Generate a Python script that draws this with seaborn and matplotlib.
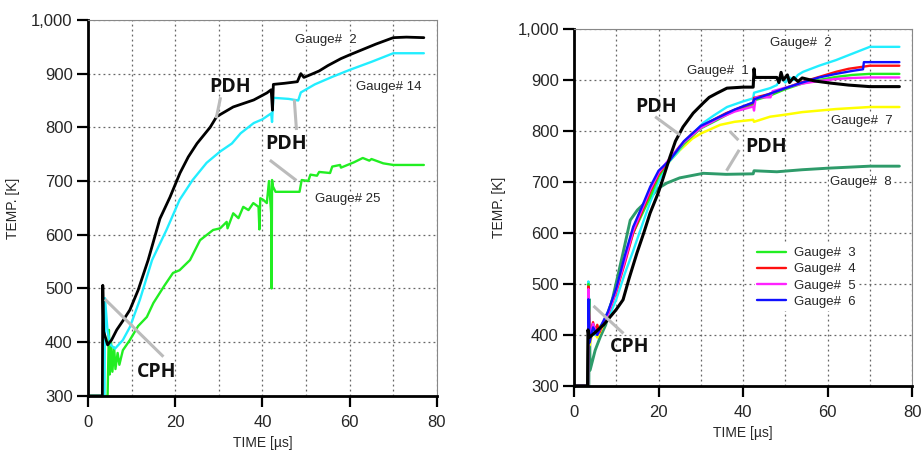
import matplotlib
matplotlib.use("Agg")
import matplotlib.pyplot as plt
import seaborn as sns
from matplotlib.ticker import MultipleLocator, FuncFormatter

# ---------------- left panel : gauges 2, 14, 25 ----------------
left_g2_t = [0, 3.3, 3.4, 3.6, 4.5, 5.4, 6.6, 8.1, 9.6, 11.5, 13.8, 16.5, 18.8, 21.1, 23, 25, 28,
             29.5, 33.3, 38, 41, 42, 42.3, 42.5, 45, 48, 48.8, 49.5, 51, 53, 55, 58, 60, 63, 66,
             70, 73, 77]
left_g2_k = [300, 300, 506, 420, 395, 404, 423, 441, 460, 497, 553, 630, 670, 715, 745, 770, 800,
             820, 838, 851, 864, 870, 832, 880, 882, 885, 900, 893, 898, 905, 915, 928, 935, 945,
             955, 967, 968, 967]

left_g14_t = [0, 3.8, 3.9, 4.5, 5.2, 6.2, 8, 9.6, 11.9, 14.7, 18, 21, 24, 27.2, 30.3, 33, 35, 38,
              40, 42, 42.2, 42.5, 46, 48.2, 48.8, 52, 56, 60, 65, 70, 77]
left_g14_k = [300, 300, 482, 420, 395, 388, 404, 428, 479, 553, 609, 665, 702, 734, 755, 770, 789,
              808, 815, 826, 810, 855, 853, 850, 865, 880, 894, 907, 922, 938, 938]

left_g25_t = [0, 4.5, 4.8, 5.0, 5.3, 5.6, 6.0, 6.3, 6.8, 7.2, 8, 9.6, 11.5, 13.5, 15, 17.5, 19.5,
              21, 23.4, 25.7, 28.7, 30.3, 31.8, 32.0, 33.3, 34.5, 35.6, 36.8, 37.9, 39.1, 39.3,
              39.5, 40.2, 41, 41.5, 42.0, 42.1, 42.2, 42.4, 43, 48.5, 49, 50.5, 51, 52.5, 53,
              55.5, 56, 57.8, 58, 61, 63, 64.5, 65, 67.7, 70, 77]
left_g25_k = [300, 300, 423, 340, 400, 345, 390, 350, 380, 358, 385, 404, 430, 447, 473, 505, 529,
              534, 553, 590, 609, 612, 624, 612, 640, 631, 652, 646, 659, 652, 610,
              668, 665, 659, 700, 640, 500, 702, 690, 680, 680, 702, 700, 712, 710, 717,
              715, 727, 730, 725, 735, 743, 738, 741, 733, 730, 730]

# ---------------- right panel : gauges 1-8 ----------------
right_g1_t = [0, 3.2, 3.3, 3.6, 5, 7, 8.5, 10, 11.6, 13, 14.9, 16.5, 18, 19.9, 20.8, 22.7, 24,
              25.8, 28.2, 30.6, 32, 33.8, 36.2, 40, 42.4, 42.6, 42.8, 48, 48.5, 49, 49.5, 50.5,
              51, 52, 53, 54, 57, 60.6, 65, 70, 77]
right_g1_k = [300, 300, 410, 395, 405, 420, 435, 450, 469, 510, 561, 600, 639, 678, 700, 749, 780,
              808, 835, 855, 866, 874, 884, 886, 886, 922, 905, 905, 895, 915, 900, 910,
              895, 905, 897, 904, 898, 894, 890, 887, 887]

right_g2_t = [0, 3.3, 3.4, 3.7, 5, 6, 8, 10, 12, 14, 16.3, 18, 20, 22, 24.4, 27, 30.6, 33, 36.2,
              40, 42.4, 42.6, 46.4, 48, 49, 50, 51, 52, 53, 54.2, 58, 62, 66, 70, 77]
right_g2_k = [300, 300, 505, 420, 400, 415, 430, 470, 520, 565, 620, 660, 700, 735, 757, 785, 816,
              830, 847, 858, 864, 875, 884, 890, 905, 895, 905, 900, 910, 916, 928, 939, 952,
              965, 965]

right_g3_t = [0, 3.3, 3.4, 3.7, 4.5, 5.5, 7, 8, 10, 12, 14, 16, 18, 20, 23, 26, 30, 34, 38, 42.4,
              42.6, 46, 50, 54, 58, 62, 66, 70, 77]
right_g3_k = [300, 300, 500, 410, 420, 410, 425, 445, 490, 550, 600, 635, 670, 710, 748, 775, 805,
              822, 840, 852, 860, 868, 882, 893, 900, 906, 910, 912, 912]

right_g4_t = [0, 3.3, 3.4, 3.7, 4.5, 5, 5.5, 6, 7, 8, 10, 12, 14, 16, 18, 20, 22.7, 25, 28, 30,
              33, 36, 40, 42.4, 42.6, 46, 50, 54, 58, 62, 65, 68.4, 70, 77]
right_g4_k = [300, 300, 495, 400, 425, 405, 420, 405, 425, 440, 485, 540, 600, 640, 680, 715, 745,
              770, 795, 808, 822, 835, 848, 855, 865, 872, 884, 896, 906, 916, 922, 926, 928, 928]

right_g5_t = [0, 3.3, 3.4, 3.7, 4.5, 5.5, 6.5, 8, 10, 12, 14, 16, 18, 20, 23, 26, 30, 34, 38, 42.4,
              42.6, 43, 46.5, 47, 50, 54, 58, 62, 66, 70, 77]
right_g5_k = [300, 300, 490, 395, 422, 400, 418, 440, 488, 545, 605, 645, 685, 718, 750, 778, 806,
              824, 838, 848, 840, 866, 866, 878, 885, 893, 898, 902, 904, 905, 905]

right_g6_t = [0, 3.3, 3.4, 3.7, 4.5, 5.5, 6.5, 8, 10, 12, 14, 16, 18, 20, 22.7, 26, 30, 34, 38,
              42.4, 42.6, 46, 50, 54, 58, 62, 66, 68.4, 68.6, 77]
right_g6_k = [300, 300, 470, 385, 415, 400, 420, 445, 492, 555, 612, 650, 690, 722, 743, 780, 810,
              826, 842, 856, 862, 872, 884, 895, 905, 912, 918, 921, 935, 935]

right_g7_t = [0, 3.3, 3.4, 3.7, 4.5, 5.5, 6.5, 8, 10, 12, 14, 16, 18, 20, 22, 25, 28, 30, 34.6,
              38, 42.4, 42.6, 46.4, 50, 54, 58, 62, 66, 70, 77]
right_g7_k = [300, 300, 480, 380, 410, 395, 412, 440, 490, 550, 610, 648, 685, 715, 735, 762, 785,
              795, 812, 818, 822, 818, 828, 832, 837, 840, 843, 845, 847, 847]

right_g8_t = [0, 3.5, 3.6, 3.8, 5, 6.2, 7.5, 9.2, 11.6, 13.3, 15, 18, 20, 22, 25, 30.6, 36, 42.4,
              42.6, 48, 54, 60, 65, 70, 77]
right_g8_k = [300, 300, 470, 331, 370, 396, 420, 474, 561, 625, 645, 669, 688, 698, 708, 717, 715,
              716, 722, 720, 724, 727, 729, 731, 731]

legend_labels = ["Gauge#  3", "Gauge#  4", "Gauge#  5", "Gauge#  6"]

# colours
c_black = "#000000"
c_cyan = "#22EEFF"
c_lime = "#22EE22"
c_red = "#FF1010"
c_magenta = "#FF22FF"
c_blue = "#1010FF"
c_yellow = "#FFFF00"
c_seagreen = "#2E9B6A"
c_note = "#BBBBBB"

sns.set_style("white")
plt.rcParams["font.family"] = ["Liberation Sans", "DejaVu Sans"]

fig = plt.figure(figsize=(9.22, 4.53), dpi=100)
ax_l = fig.add_axes([0.0954, 0.126, 0.3785, 0.830])
ax_r = fig.add_axes([0.6226, 0.148, 0.3666, 0.788])


def draw(ax, t, k, color, lw=1.7, label=None):
    sns.lineplot(x=t, y=k, ax=ax, color=color, lw=lw, sort=False, estimator=None,
                 label=label, legend=False)
    return ax.lines[-1]


def style_axes(ax):
    ax.set_xlim(0, 80)
    ax.set_ylim(300, 1000)
    ax.xaxis.set_major_locator(MultipleLocator(20))
    ax.xaxis.set_minor_locator(MultipleLocator(10))
    ax.yaxis.set_major_locator(MultipleLocator(100))
    ax.yaxis.set_major_formatter(FuncFormatter(lambda v, p: f"{int(v):,}"))
    ax.grid(True, which="both", color="#666666", ls=(0, (1.5, 2.5)), lw=0.9)
    ax.set_axisbelow(True)
    for s in ["left", "bottom"]:
        ax.spines[s].set_color("black")
        ax.spines[s].set_linewidth(2.0)
    for s in ["top", "right"]:
        ax.spines[s].set_color("#888888")
        ax.spines[s].set_linewidth(0.8)
    ax.tick_params(axis="both", which="major", direction="out", length=8, width=1.6,
                   color="black", labelsize=12, left=True, bottom=True)
    ax.tick_params(axis="x", which="major", pad=6)
    ax.tick_params(axis="y", which="major", pad=3)
    ax.tick_params(axis="both", which="minor", length=0)
    ax.set_xlabel("TIME [µs]", fontsize=10, labelpad=4)
    ax.set_ylabel("TEMP. [K]", fontsize=10, labelpad=8)


def note(ax, x, y, s, size=9.5, bold=False):
    if bold:
        ax.text(x, y, s, fontsize=14, fontweight="bold", ha="center", va="center",
                family=["Open Sans", "Liberation Sans"], color="#111111", zorder=6)
    else:
        ax.text(x, y, s, fontsize=size, ha="center", va="center", zorder=6,
                bbox=dict(facecolor="white", edgecolor="none", pad=0.5))


def pointer(ax, x0, y0, x1, y1):
    ax.plot([x0, x1], [y0, y1], color=c_note, lw=2.2, solid_capstyle="butt", zorder=5)


# ---- left panel ----
draw(ax_l, left_g25_t, left_g25_k, c_lime, 1.7)
draw(ax_l, left_g14_t, left_g14_k, c_cyan, 1.7)
draw(ax_l, left_g2_t, left_g2_k, c_black, 2.0)
style_axes(ax_l)

note(ax_l, 54.6, 963, "Gauge#  2")
note(ax_l, 69.0, 875, "Gauge# 14")
note(ax_l, 59.5, 667, "Gauge# 25")
note(ax_l, 32.6, 875, "PDH", bold=True)
note(ax_l, 45.3, 769, "PDH", bold=True)
note(ax_l, 15.8, 345, "CPH", bold=True)
pointer(ax_l, 30.4, 856, 29.4, 817)
pointer(ax_l, 47.3, 852, 47.8, 795)
pointer(ax_l, 41.7, 739, 47.8, 701)
pointer(ax_l, 3.9, 480, 17.3, 373)

# ---- right panel ----
draw(ax_r, right_g8_t, right_g8_k, c_seagreen, 2.1)
draw(ax_r, right_g7_t, right_g7_k, c_yellow, 1.8)
draw(ax_r, right_g2_t, right_g2_k, c_cyan, 1.7)
h3 = draw(ax_r, right_g3_t, right_g3_k, c_lime, 1.7, legend_labels[0])
h4 = draw(ax_r, right_g4_t, right_g4_k, c_red, 1.7, legend_labels[1])
h5 = draw(ax_r, right_g5_t, right_g5_k, c_magenta, 1.7, legend_labels[2])
h6 = draw(ax_r, right_g6_t, right_g6_k, c_blue, 1.7, legend_labels[3])
draw(ax_r, right_g1_t, right_g1_k, c_black, 2.2)
style_axes(ax_r)

note(ax_r, 53.7, 973, "Gauge#  2")
note(ax_r, 34.1, 918, "Gauge#  1")
note(ax_r, 68.1, 820, "Gauge#  7")
note(ax_r, 67.9, 699, "Gauge#  8")
note(ax_r, 19.4, 848, "PDH", bold=True)
note(ax_r, 45.4, 769, "PDH", bold=True)
note(ax_r, 13.2, 377, "CPH", bold=True)
pointer(ax_r, 19.2, 828, 25.1, 792)
pointer(ax_r, 36.9, 799, 38.9, 782)
pointer(ax_r, 39.1, 763, 36.1, 722)
pointer(ax_r, 4.6, 457, 11.7, 403)

leg = ax_r.legend(handles=[h3, h4, h5, h6], labels=legend_labels, loc="upper left",
                  bbox_to_anchor=(0.515, 0.415), frameon=True, fontsize=9.5,
                  handlelength=2.2, labelspacing=0.3, handletextpad=0.6, borderpad=0.2)
leg.get_frame().set_facecolor("white")
leg.get_frame().set_edgecolor("none")
leg.get_frame().set_alpha(1.0)

fig.savefig("out.png", dpi=100)
